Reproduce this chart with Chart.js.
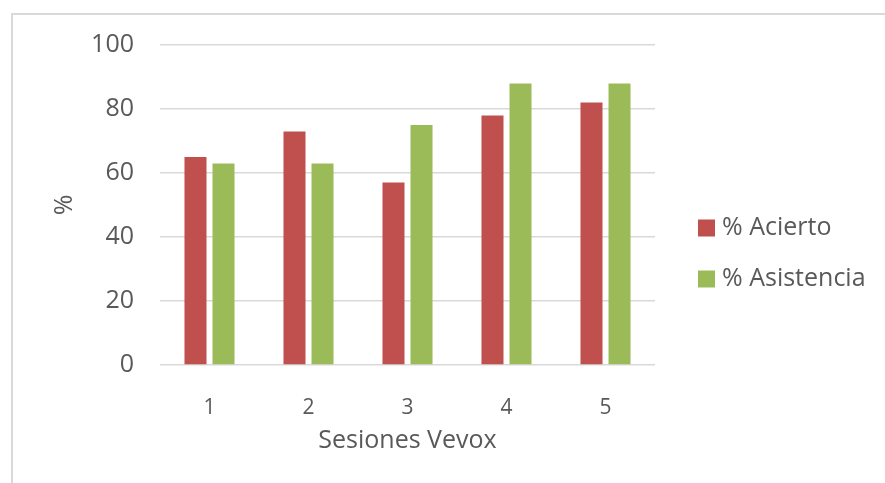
<!DOCTYPE html>
<html>
<head>
<meta charset="utf-8">
<script src="https://cdn.jsdelivr.net/npm/chart.js@4.4.1/dist/chart.umd.min.js"></script>
<style>
    html, body { margin: 0; padding: 0; background: #fff; overflow: hidden; }
    #frame {
        position: absolute; left: 11px; top: 13px;
        width: 1000px; height: 1000px;
        border: 2px solid #d9d9d9;
    }
    #chart { position: absolute; left: 0; top: 0; }
</style>
</head>
<body>
<div id="frame"></div>
<canvas id="chart" width="885" height="483"></canvas>
<script>
// chart data
const categories = ['1', '2', '3', '4', '5'];
const acierto = [65, 73, 57, 78, 82];
const asistencia = [63, 63, 75, 88, 88];
const yTicks = [0, 20, 40, 60, 80, 100];

const textColor = '#595959';
const fontFamily = "'Open Sans', sans-serif";

// legend on the right, drawn by hand so the plot area stays put
const sideLegend = {
    id: 'sideLegend',
    afterDraw(chart) {
        const ctx = chart.ctx;
        ctx.save();
        ctx.font = '25px ' + fontFamily;
        ctx.textBaseline = 'middle';
        ctx.textAlign = 'left';
        chart.data.datasets.forEach((ds, i) => {
            const y = 228 + i * 51;
            ctx.fillStyle = ds.backgroundColor;
            ctx.fillRect(698, y - 8.5, 17, 17);
            ctx.fillStyle = textColor;
            ctx.fillText(ds.label, 722, y);
        });
        ctx.restore();
    }
};

new Chart(document.getElementById('chart').getContext('2d'), {
    type: 'bar',
    data: {
        labels: categories,
        datasets: [
            { label: '% Acierto', data: acierto, backgroundColor: '#c0504d' },
            { label: '% Asistencia', data: asistencia, backgroundColor: '#9bbb59' }
        ]
    },
    options: {
        responsive: false,
        animation: false,
        categoryPercentage: 0.566,
        barPercentage: 0.786,
        layout: { padding: { left: 50, right: 230, top: 45, bottom: 27 } },
        plugins: {
            legend: { display: false },
            tooltip: { enabled: false }
        },
        scales: {
            x: {
                grid: { display: false },
                border: { display: false },
                ticks: { color: textColor, font: { family: fontFamily, size: 21 }, padding: 22 },
                title: {
                    display: true, text: 'Sesiones Vevox', color: textColor,
                    font: { family: fontFamily, size: 25 }, padding: 0
                },
                afterFit: s => { s.height = 91; }
            },
            y: {
                min: 0,
                max: 100,
                afterBuildTicks: s => { s.ticks = yTicks.map(v => ({ value: v })); },
                grid: { color: '#d9d9d9', lineWidth: 1.5, drawTicks: false },
                border: { display: false },
                ticks: { color: textColor, font: { family: fontFamily, size: 25 }, padding: 26 },
                title: {
                    display: true, text: '%', color: textColor,
                    font: { family: fontFamily, size: 25 }, padding: 0
                },
                afterFit: s => { s.width = 110; }
            }
        }
    },
    plugins: [sideLegend]
});
</script>
</body>
</html>
